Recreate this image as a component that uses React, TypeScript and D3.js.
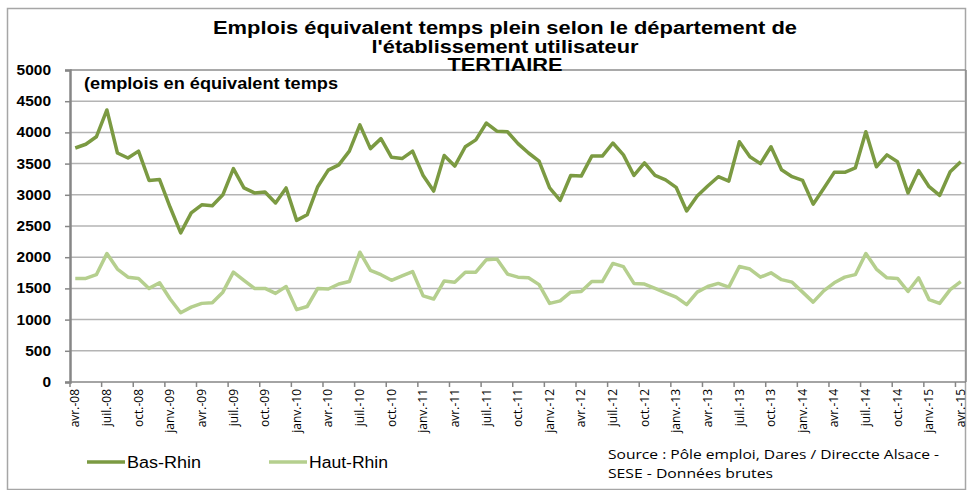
import * as d3 from "d3";
import { useEffect, useRef } from "react";

const years = ["08", "09", "10", "11", "12", "13", "14", "15"];
const monthNames = ["janv.", "févr.", "mars", "avr.", "mai", "juin", "juil.", "août", "sept.", "oct.", "nov.", "déc."];

// avr.-08 .. avr.-15, one per month
const months: string[] = [];
years.forEach((y, yi) => {
  monthNames.forEach((m, mi) => {
    if ((yi === 0 && mi < 3) || (yi === years.length - 1 && mi > 3)) return;
    months.push(`${m}-${y}`);
  });
});

const basRhin = [
  3750, 3810, 3930, 4360, 3670, 3590, 3700, 3230, 3245, 2800, 2390, 2710,
  2840, 2825, 3000, 3420, 3110, 3030, 3045, 2870, 3110, 2590, 2680, 3130,
  3395, 3480, 3700, 4120, 3740, 3900, 3600, 3580, 3700, 3310, 3060, 3630,
  3460, 3770, 3880, 4150, 4020, 4010, 3820, 3670, 3540, 3110, 2910, 3310,
  3300, 3620, 3620, 3830, 3640, 3310, 3510, 3310, 3240, 3120, 2740, 2980,
  3140, 3290, 3220, 3850, 3610, 3500, 3770, 3400, 3290, 3230, 2850, 3100,
  3360, 3360, 3430, 4010, 3450, 3640, 3530, 3030, 3390, 3130, 2990, 3370,
  3530,
];

const hautRhin = [
  1660, 1660, 1720, 2060, 1810, 1680, 1660, 1500, 1590, 1330, 1110, 1200,
  1260, 1270, 1440, 1760, 1630, 1500, 1500, 1420, 1530, 1160, 1210, 1500,
  1490, 1570, 1610, 2080, 1790, 1720, 1630, 1700, 1770, 1380, 1330, 1620,
  1600, 1760, 1760, 1960, 1970, 1730, 1680, 1670, 1560, 1260, 1300, 1440,
  1450, 1610, 1610, 1900, 1850, 1580, 1570, 1500, 1430, 1360, 1240, 1440,
  1530, 1580, 1520, 1850, 1810, 1680, 1750, 1640, 1600, 1440, 1280, 1460,
  1590, 1680, 1720, 2060, 1810, 1670, 1660, 1450, 1670, 1320, 1260, 1480,
  1610,
];

const yTicks = [0, 500, 1000, 1500, 2000, 2500, 3000, 3500, 4000, 4500, 5000];

const seriesNames = ["Bas-Rhin", "Haut-Rhin"];
const seriesColors = ["#7b9a42", "#b5cf8e"];

const titleLines = [
  "Emplois équivalent temps plein selon le département de",
  "l'établissement utilisateur",
  "TERTIAIRE",
];
const subtitle = "(emplois en équivalent temps";
const sourceLines = ["Source : Pôle emploi, Dares / Direccte Alsace -", "SESE - Données brutes"];

const W = 969;
const H = 490;
const margin = { top: 70, right: 3, bottom: 108, left: 70 };

export default function App() {
  const ref = useRef<SVGSVGElement>(null);

  useEffect(() => {
    const svg = d3.select(ref.current);
    svg.selectAll("*").remove();

    const x = d3
      .scaleBand<string>()
      .domain(months)
      .range([margin.left, W - margin.right])
      .paddingInner(0)
      .paddingOuter(0);
    const y = d3.scaleLinear().domain([0, 5000]).range([H - margin.bottom, margin.top]);
    const bw = x.bandwidth();
    const x0 = margin.left;
    const x1 = W - margin.right;
    const y0 = y(0);

    // outer chart frame
    svg
      .append("rect")
      .attr("x", 7.5)
      .attr("y", 8.5)
      .attr("width", W - 11)
      .attr("height", H - 9)
      .attr("fill", "none")
      .attr("stroke", "#a6a6a6")
      .attr("stroke-width", 1.5);

    // gridlines
    svg
      .append("g")
      .selectAll("line")
      .data(yTicks.filter((t) => t > 0))
      .join("line")
      .attr("x1", x0)
      .attr("x2", x1)
      .attr("y1", (d) => y(d))
      .attr("y2", (d) => y(d))
      .attr("stroke", (d) => (d === 5000 ? "#8c8c8c" : "#b4b4b4"))
      .attr("stroke-width", 1.5);

    // right border of plot
    svg
      .append("line")
      .attr("x1", x1)
      .attr("x2", x1)
      .attr("y1", margin.top)
      .attr("y2", y0)
      .attr("stroke", "#8c8c8c")
      .attr("stroke-width", 1.5);

    // y axis
    const yAxis = d3
      .axisLeft(y)
      .tickValues(yTicks)
      .tickSize(5)
      .tickPadding(14)
      .tickFormat((d) => String(d));
    const yg = svg.append("g").attr("transform", `translate(${x0},0)`).call(yAxis);
    yg.select(".domain").attr("stroke", "#868686").attr("stroke-width", 2.5);
    yg.selectAll(".tick line").attr("stroke", "#868686").attr("stroke-width", 1.5);
    yg.selectAll("text")
      .attr("font-family", "Liberation Sans, Arial, sans-serif")
      .attr("font-weight", "bold")
      .attr("font-size", 14)
      .attr("fill", "#000")
      .attr("textLength", (d) => (String(d).length * 8.6))
      .attr("lengthAdjust", "spacingAndGlyphs");

    // x axis
    const xg = svg.append("g");
    xg.append("line")
      .attr("x1", x0)
      .attr("x2", x1)
      .attr("y1", y0)
      .attr("y2", y0)
      .attr("stroke", "#868686")
      .attr("stroke-width", 1.5);
    const tickMonths = months.filter((_, i) => i % 3 === 0);
    xg.selectAll("line.tk")
      .data(tickMonths)
      .join("line")
      .attr("class", "tk")
      .attr("x1", (d) => x(d)!)
      .attr("x2", (d) => x(d)!)
      .attr("y1", y0)
      .attr("y2", y0 + 5)
      .attr("stroke", "#868686")
      .attr("stroke-width", 1.5);
    xg.selectAll("text")
      .data(tickMonths)
      .join("text")
      .attr("transform", (d) => `translate(${x(d)! + bw / 2},${y0 + 7}) rotate(-90)`)
      .attr("text-anchor", "end")
      .attr("dy", "0.35em")
      .attr("font-family", "Open Sans, sans-serif")
      .attr("font-size", 12)
      .attr("fill", "#000")
      .text((d) => d);

    // lines
    const lineGen = d3
      .line<number>()
      .x((_, i) => x(months[i])! + bw / 2)
      .y((d) => y(d));
    [basRhin, hautRhin].forEach((s, si) => {
      svg
        .append("path")
        .datum(s)
        .attr("d", lineGen)
        .attr("fill", "none")
        .attr("stroke", seriesColors[si])
        .attr("stroke-width", 3.5)
        .attr("stroke-linejoin", "round");
    });

    // titles
    const titleWidths = [584, 267, 115];
    const tg = svg
      .append("g")
      .attr("font-family", "Liberation Sans, Arial, sans-serif")
      .attr("font-weight", "bold")
      .attr("font-size", 18)
      .attr("text-anchor", "middle");
    titleLines.forEach((t, i) => {
      tg.append("text")
        .attr("x", 505)
        .attr("y", 34 + i * 18.5)
        .attr("textLength", titleWidths[i])
        .attr("lengthAdjust", "spacingAndGlyphs")
        .text(t);
    });

    svg
      .append("text")
      .attr("x", 84)
      .attr("y", 89)
      .attr("font-family", "Liberation Sans, Arial, sans-serif")
      .attr("font-weight", "bold")
      .attr("font-size", 16)
      .attr("textLength", 254)
      .attr("lengthAdjust", "spacingAndGlyphs")
      .text(subtitle);

    // legend
    const lg = svg.append("g").attr("font-family", "Liberation Sans, Arial, sans-serif").attr("font-size", 16);
    const legX = [87, 269];
    const legW = [74, 79];
    seriesNames.forEach((n, i) => {
      lg.append("line")
        .attr("x1", legX[i])
        .attr("x2", legX[i] + 38)
        .attr("y1", 462)
        .attr("y2", 462)
        .attr("stroke", seriesColors[i])
        .attr("stroke-width", 3.5);
      lg.append("text")
        .attr("x", legX[i] + 40)
        .attr("y", 468)
        .attr("textLength", legW[i])
        .attr("lengthAdjust", "spacingAndGlyphs")
        .text(n);
    });

    // source
    const srcW = [331, 165];
    const sg = svg.append("g").attr("font-family", "Open Sans, sans-serif").attr("font-size", 13);
    sourceLines.forEach((t, i) => {
      sg.append("text")
        .attr("x", 608)
        .attr("y", 459 + i * 18.5)
        .attr("textLength", srcW[i])
        .attr("lengthAdjust", "spacingAndGlyphs")
        .text(t);
    });
  }, []);

  return (
    <svg
      ref={ref}
      width={W}
      height={H}
      style={{ position: "absolute", left: 0, top: 0, background: "#fff" }}
    />
  );
}
